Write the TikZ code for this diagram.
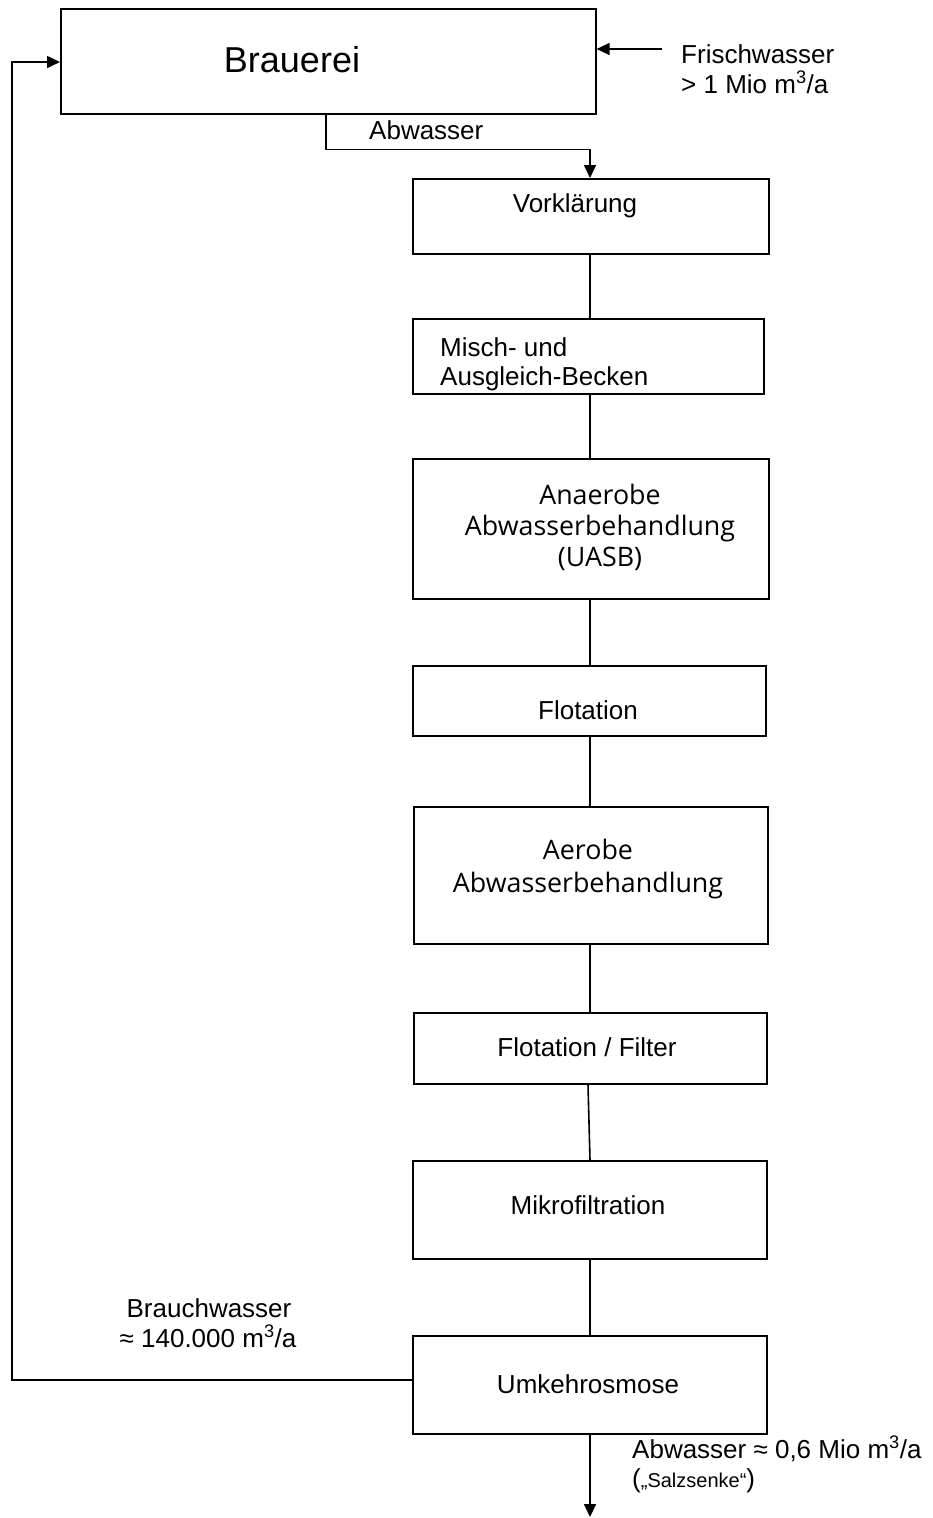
\documentclass[tikz,border=0pt]{standalone}
\usepackage{fontspec}
\setmainfont{Liberation Sans}
\newfontfamily\procfont{Open Sans}
\usetikzlibrary{arrows.meta}
\begin{document}
\begin{tikzpicture}[x=1pt,y=-1pt,
  stage/.style={draw, line width=1.6pt, inner sep=0pt, anchor=north west},
  lbl/.style={inner sep=0pt, font=\fontsize{26}{30}\selectfont},
  plbl/.style={inner sep=0pt, font=\procfont\fontsize{26.8}{31}\selectfont},
  flow/.style={line width=1.6pt},
  feed/.style={flow, -{Triangle[length=13pt,width=12pt]}},
]
\useasboundingbox (0,0) rectangle (932,1518);

% process stages
\node[stage, minimum width=535pt, minimum height=105pt] (brau)  at (60,8)    {};
\node[stage, minimum width=356pt, minimum height=75pt]  (vork)  at (412,178) {};
\node[stage, minimum width=351pt, minimum height=75pt]  (misch) at (412,318) {};
\node[stage, minimum width=356pt, minimum height=140pt] (anae)  at (412,458) {};
\node[stage, minimum width=353pt, minimum height=70pt]  (flot)  at (412,665) {};
\node[stage, minimum width=354pt, minimum height=137pt] (aer)   at (413,806) {};
\node[stage, minimum width=353pt, minimum height=71pt]  (ff)    at (413,1012){};
\node[stage, minimum width=354pt, minimum height=98pt]  (mikro) at (412,1160){};
\node[stage, minimum width=354pt, minimum height=98pt]  (umk)   at (412,1335){};

% stage labels
\node[lbl, font=\fontsize{36}{42}\selectfont, anchor=base] (tbrau) at (292,72) {Brauerei};
\node[lbl, anchor=base] (tvork) at (575,212) {Vorklärung};
\node[lbl, anchor=base west] (tmisch1) at (440,356) {Misch- und};
\node[lbl, anchor=base west] (tmisch2) at (440,385) {Ausgleich-Becken};
\node[plbl, anchor=base] (tanae1) at (600,504) {Anaerobe};
\node[plbl, anchor=base] (tanae2) at (600,535) {Abwasserbehandlung};
\node[plbl, anchor=base] (tanae3) at (600,566) {(UASB)};
\node[lbl, anchor=base] (tflot) at (588,719) {Flotation};
\node[plbl, anchor=base] (taer1) at (588,859) {Aerobe};
\node[plbl, anchor=base] (taer2) at (588,892) {Abwasserbehandlung};
\node[lbl, anchor=base] (tff) at (587,1056) {Flotation / Filter};
\node[lbl, anchor=base] (tmikro) at (588,1214) {Mikrofiltration};
\node[lbl, anchor=base] (tumk) at (588,1393) {Umkehrosmose};

% stream labels
\node[lbl, anchor=base west] (tfw1) at (681,63) {Frischwasser};
\node[lbl, anchor=base west] (tfw2) at (681,93) {> 1 Mio m\textsuperscript{3}/a};
\node[lbl, anchor=base west] (taw) at (369,139) {Abwasser};
\node[lbl, anchor=base] (tbw1) at (209,1317) {Brauchwasser};
\node[lbl, anchor=base] (tbw2) at (208,1347) {≈ 140.000 m\textsuperscript{3}/a};
\node[lbl, anchor=base west] (taw2) at (632,1458) {Abwasser ≈ 0,6 Mio m\textsuperscript{3}/a};
\node[lbl, anchor=base west] (tsalz) at (632,1487) {({\fontsize{20}{24}\selectfont „Salzsenke“})};

% helper coordinates
\coordinate (spine) at (590,0);
\coordinate (fw) at (662,49);
\coordinate (aw) at (326,0);
\coordinate (rl) at (12,1380);
\coordinate (rt) at (12,62);
\coordinate (outlet) at (590,1517);

% fresh water in
\draw[feed] (fw) -- (fw -| brau.east);
% waste water to pre-treatment
\draw[feed] (brau.south -| aw) -- ++(0,35) -| (vork.north -| spine);
% treatment chain
\draw[flow] (vork.south -| spine) -- (misch.north -| spine);
\draw[flow] (misch.south -| spine) -- (anae.north -| spine);
\draw[flow] (anae.south -| spine) -- (flot.north -| spine);
\draw[flow] (flot.south -| spine) -- (aer.north -| spine);
\draw[flow] (aer.south -| spine) -- (ff.north -| spine);
\draw[flow] ([xshift=-2pt]ff.south -| spine) -- (mikro.north -| spine);
\draw[flow] (mikro.south -| spine) -- (umk.north -| spine);
% process water back to the brewery
\draw[feed] (umk.west |- rl) -- (rl) -- (rt) -- (brau.west |- rt);
% concentrate out
\draw[feed] (umk.south -| spine) -- (outlet);
\end{tikzpicture}
\end{document}
